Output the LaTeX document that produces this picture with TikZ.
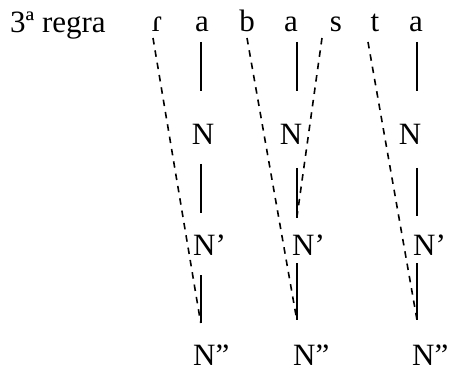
\documentclass[tikz,border=0pt]{standalone}
\usepackage{fontspec}
\setmainfont{Liberation Serif}
\begin{document}
\begin{tikzpicture}[x=1pt,y=-1pt,
  txt/.style={inner sep=0pt,font=\fontsize{31}{37}\selectfont},
  solid line/.style={line width=1.8pt},
  dash line/.style={line width=1.6pt,dash pattern=on 6.5pt off 6pt}]
\useasboundingbox (0,0) rectangle (449,371);
% top row
\node[txt,anchor=base west] (rule) at (10,33) {3ª regra};
\node[txt,anchor=base] (s1) at (157,32) {ɾ};
\node[txt,anchor=base] (s2) at (202,32) {a};
\node[txt,anchor=base] (s3) at (247,32) {b};
\node[txt,anchor=base] (s4) at (291,32) {a};
\node[txt,anchor=base] (s5) at (336,32) {s};
\node[txt,anchor=base] (s6) at (375,32) {t};
\node[txt,anchor=base] (s7) at (416,32) {a};
% N row
\node[txt,anchor=base] (n1) at (203,145) {N};
\node[txt,anchor=base] (n2) at (291,145) {N};
\node[txt,anchor=base] (n3) at (410,145) {N};
% N' row
\node[txt,anchor=base west] (p1) at (193,255) {N’};
\node[txt,anchor=base west] (p2) at (292,255) {N’};
\node[txt,anchor=base west] (p3) at (413,255) {N’};
% N'' row
\node[txt,anchor=base west] (q1) at (193,365) {N”};
\node[txt,anchor=base west] (q2) at (293,365) {N”};
\node[txt,anchor=base west] (q3) at (412,365) {N”};
% line end coordinates
\coordinate (a1t) at (200.7,42); \coordinate (a1b) at (200.7,91);
\coordinate (b1t) at (200.7,164); \coordinate (b1b) at (200.7,213);
\coordinate (c1t) at (200.7,275); \coordinate (c1b) at (200.7,323);
\coordinate (a2t) at (296.8,42); \coordinate (a2b) at (296.8,91);
\coordinate (b2t) at (296.8,168); \coordinate (b2b) at (296.8,218);
\coordinate (c2t) at (296.8,263); \coordinate (c2b) at (296.8,320);
\coordinate (a3t) at (417,42); \coordinate (a3b) at (417,91);
\coordinate (b3t) at (417,168); \coordinate (b3b) at (417,216);
\coordinate (c3t) at (417,263); \coordinate (c3b) at (417,320);
\foreach \c in {1,2,3}{
  \draw[solid line] (a\c t) -- (a\c b);
  \draw[solid line] (b\c t) -- (b\c b);
  \draw[solid line] (c\c t) -- (c\c b);
}
% dashed association lines
\coordinate (d1s) at (153,38);
\coordinate (d2s) at (247,38);
\coordinate (d3s) at (322,38);
\coordinate (d4s) at (368,42);
\draw[dash line] (d1s) -- (c1b);
\draw[dash line] (d2s) -- (c2b);
\draw[dash line] (d3s) -- (b2b);
\draw[dash line] (d4s) -- (c3b);
\end{tikzpicture}
\end{document}
